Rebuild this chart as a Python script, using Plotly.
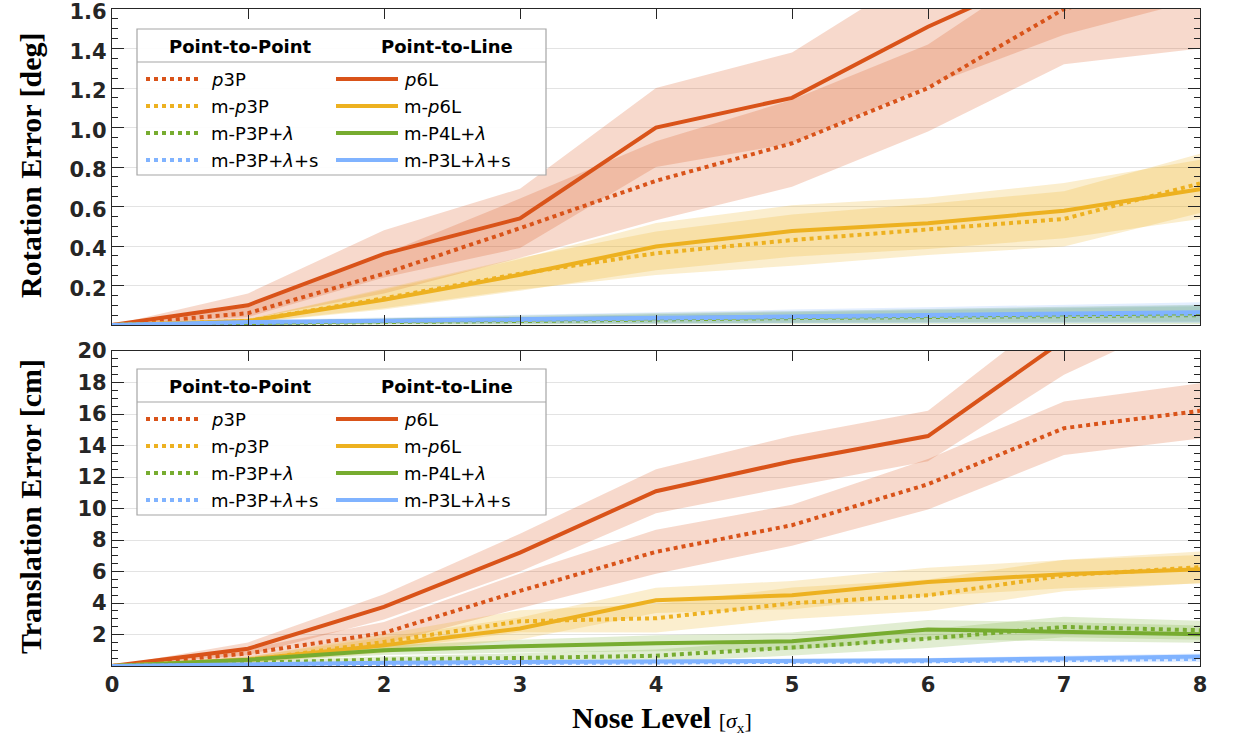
import plotly.graph_objects as go

# ---------------- data ----------------
noise_levels = [0, 1, 2, 3, 4, 5, 6, 7, 8]
x_tick_labels = ["0", "1", "2", "3", "4", "5", "6", "7", "8"]
rot_tick_vals = [0.2, 0.4, 0.6, 0.8, 1.0, 1.2, 1.4, 1.6]
tr_tick_vals = [2, 4, 6, 8, 10, 12, 14, 16, 18, 20]

# Rotation error [deg] (mean, std)
rot_p3P = [0, 0.06, 0.26, 0.49, 0.73, 0.92, 1.20, 1.60, 1.78]
rot_p3P_sd = [0, 0.03, 0.10, 0.15, 0.20, 0.22, 0.22, 0.28, 0.38]
rot_mp3P = [0, 0.02, 0.135, 0.26, 0.363, 0.43, 0.484, 0.537, 0.717]
rot_mp3P_sd = [0, 0.01, 0.05, 0.08, 0.11, 0.13, 0.13, 0.14, 0.15]
rot_mP3Pl = [0, 0.010, 0.015, 0.020, 0.030, 0.035, 0.040, 0.045, 0.050]
rot_mP3Pl_sd = [0, 0.008, 0.012, 0.018, 0.024, 0.030, 0.035, 0.040, 0.045]
rot_mP3Pls = [0, 0.012, 0.020, 0.025, 0.030, 0.040, 0.045, 0.050, 0.055]
rot_mP3Pls_sd = [0, 0.008, 0.012, 0.018, 0.024, 0.030, 0.035, 0.040, 0.045]
rot_p6L = [0, 0.10, 0.36, 0.54, 1.00, 1.15, 1.51, 1.82, 2.05]
rot_p6L_sd = [0, 0.06, 0.12, 0.15, 0.20, 0.23, 0.30, 0.35, 0.40]
rot_mp6L = [0, 0.02, 0.128, 0.254, 0.397, 0.476, 0.515, 0.579, 0.687]
rot_mp6L_sd = [0, 0.01, 0.05, 0.08, 0.12, 0.13, 0.13, 0.14, 0.15]
rot_mP4Ll = [0, 0.012, 0.020, 0.028, 0.035, 0.040, 0.048, 0.055, 0.060]
rot_mP4Ll_sd = [0, 0.008, 0.014, 0.020, 0.026, 0.030, 0.034, 0.038, 0.042]
rot_mP3Lls = [0, 0.015, 0.022, 0.030, 0.038, 0.045, 0.052, 0.058, 0.065]
rot_mP3Lls_sd = [0, 0.010, 0.016, 0.022, 0.028, 0.033, 0.038, 0.044, 0.050]

# Translation error [cm] (mean, std)
tr_p3P = [0, 0.8, 2.1, 4.77, 7.25, 8.94, 11.54, 15.1, 16.2]
tr_p3P_sd = [0, 0.3, 0.7, 1.1, 1.4, 1.3, 1.6, 1.7, 1.75]
tr_mp3P = [0, 0.35, 1.53, 2.84, 3.03, 3.98, 4.49, 5.75, 6.27]
tr_mp3P_sd = [0, 0.2, 0.5, 0.7, 0.9, 1.0, 1.0, 1.0, 1.0]
tr_mP3Pl = [0, 0.2, 0.41, 0.51, 0.65, 1.17, 1.74, 2.48, 2.27]
tr_mP3Pl_sd = [0, 0.1, 0.2, 0.3, 0.4, 0.5, 0.6, 0.65, 0.6]
tr_mP3Pls = [0, 0.08, 0.15, 0.2, 0.22, 0.25, 0.3, 0.38, 0.45]
tr_mP3Pls_sd = [0, 0.05, 0.08, 0.1, 0.12, 0.13, 0.15, 0.17, 0.2]
tr_p6L = [0, 1.1, 3.75, 7.2, 11.1, 13.0, 14.6, 20.7, 25.0]
tr_p6L_sd = [0, 0.4, 0.8, 1.2, 1.4, 1.6, 1.6, 2.2, 2.5]
tr_mp6L = [0, 0.4, 1.32, 2.38, 4.17, 4.5, 5.34, 5.83, 6.14]
tr_mp6L_sd = [0, 0.2, 0.5, 0.7, 0.8, 0.9, 0.9, 0.9, 0.9]
tr_mP4Ll = [0, 0.4, 1.0, 1.26, 1.45, 1.57, 2.32, 2.17, 2.02]
tr_mP4Ll_sd = [0, 0.15, 0.3, 0.4, 0.5, 0.55, 0.6, 0.6, 0.55]
tr_mP3Lls = [0, 0.12, 0.2, 0.25, 0.3, 0.33, 0.36, 0.48, 0.6]
tr_mP3Lls_sd = [0, 0.05, 0.08, 0.1, 0.12, 0.13, 0.15, 0.17, 0.2]

names_p2p = ["<i>p</i>3P", "m-<i>p</i>3P", "m-P3P+<i>λ</i>", "m-P3P+<i>λ</i>+s"]
names_p2l = ["<i>p</i>6L", "m-<i>p</i>6L", "m-P4L+<i>λ</i>", "m-P3L+<i>λ</i>+s"]
header_p2p = "Point-to-Point"
header_p2l = "Point-to-Line"
colors = ["#D95319", "#EDB120", "#77AC30", "#80B3FF"]

rot_p2p = [(rot_p3P, rot_p3P_sd), (rot_mp3P, rot_mp3P_sd), (rot_mP3Pl, rot_mP3Pl_sd), (rot_mP3Pls, rot_mP3Pls_sd)]
rot_p2l = [(rot_p6L, rot_p6L_sd), (rot_mp6L, rot_mp6L_sd), (rot_mP4Ll, rot_mP4Ll_sd), (rot_mP3Lls, rot_mP3Lls_sd)]
tr_p2p = [(tr_p3P, tr_p3P_sd), (tr_mp3P, tr_mp3P_sd), (tr_mP3Pl, tr_mP3Pl_sd), (tr_mP3Pls, tr_mP3Pls_sd)]
tr_p2l = [(tr_p6L, tr_p6L_sd), (tr_mp6L, tr_mp6L_sd), (tr_mP4Ll, tr_mP4Ll_sd), (tr_mP3Lls, tr_mP3Lls_sd)]

# ---------------- layout geometry ----------------
W, H = 1236, 737
ML, MR, MT, MB = 112, 36, 9, 71
PW, PH = W - ML - MR, H - MT - MB


def px(xp):
    return (xp - ML) / PW


def py(yp):
    return (H - MB - yp) / PH


def rgba(hexc, a):
    h = hexc.lstrip("#")
    return "rgba(%d,%d,%d,%.3f)" % (int(h[0:2], 16), int(h[2:4], 16), int(h[4:6], 16), a)


fig = go.Figure()


def add_panel(p2p, p2l, xa, ya):
    # bands
    for group in (p2p, p2l):
        for (m, s), c in zip(group, colors):
            up = [a + b for a, b in zip(m, s)]
            lo = [a - b for a, b in zip(m, s)]
            fig.add_trace(go.Scatter(
                x=noise_levels + noise_levels[::-1], y=up + lo[::-1],
                mode="lines", fill="toself", fillcolor=rgba(c, 0.22), line=dict(width=0),
                hoverinfo="skip", showlegend=False, xaxis=xa, yaxis=ya))
    # lines
    for i, c in enumerate(colors):
        m = p2l[i][0]
        fig.add_trace(go.Scatter(x=noise_levels, y=m, mode="lines",
                                 line=dict(color=c, width=4),
                                 showlegend=False, xaxis=xa, yaxis=ya))
        m = p2p[i][0]
        fig.add_trace(go.Scatter(x=noise_levels, y=m, mode="lines",
                                 line=dict(color=c, width=4, dash="dot"),
                                 showlegend=False, xaxis=xa, yaxis=ya))


add_panel(rot_p2p, rot_p2l, "x", "y")
add_panel(tr_p2p, tr_p2l, "x2", "y2")

shapes = []
annotations = []


def add_legend(top):
    left, right = 137, 546
    shapes.append(dict(type="rect", xref="paper", yref="paper",
                       x0=px(left), x1=px(right), y0=py(top + 146), y1=py(top),
                       line=dict(color="#A6A6A6", width=1.2), fillcolor="rgba(255,255,255,0.92)",
                       layer="above"))
    shapes.append(dict(type="line", xref="paper", yref="paper",
                       x0=px(left), x1=px(right), y0=py(top + 33), y1=py(top + 33),
                       line=dict(color="#A6A6A6", width=1.2), layer="above"))
    hf = dict(family="DejaVu Sans", size=18, color="black", weight="bold")
    annotations.append(dict(xref="paper", yref="paper", x=px(240), y=py(top + 17),
                            text=header_p2p, showarrow=False, font=hf,
                            xanchor="center", yanchor="middle"))
    annotations.append(dict(xref="paper", yref="paper", x=px(447), y=py(top + 17),
                            text=header_p2l, showarrow=False, font=hf,
                            xanchor="center", yanchor="middle"))
    ef = dict(family="DejaVu Sans", size=18, color="black")
    for i, c in enumerate(colors):
        yy = top + 50 + 27 * i
        shapes.append(dict(type="line", xref="paper", yref="paper",
                           x0=px(146), x1=px(200), y0=py(yy), y1=py(yy),
                           line=dict(color=c, width=4, dash="dot"), layer="above"))
        annotations.append(dict(xref="paper", yref="paper", x=px(209), y=py(yy),
                                text=names_p2p[i], showarrow=False, font=ef,
                                xanchor="left", yanchor="middle"))
        shapes.append(dict(type="line", xref="paper", yref="paper",
                           x0=px(336), x1=px(398), y0=py(yy), y1=py(yy),
                           line=dict(color=c, width=4), layer="above"))
        annotations.append(dict(xref="paper", yref="paper", x=px(402), y=py(yy),
                                text=names_p2l[i], showarrow=False, font=ef,
                                xanchor="left", yanchor="middle"))


add_legend(29)
add_legend(369)

title_font = dict(family="Liberation Serif", size=30, color="black")
annotations.append(dict(xref="paper", yref="paper", x=px(30), y=py(165),
                        text="<b>Rotation Error [deg]</b>", textangle=-90,
                        showarrow=False, font=title_font, xanchor="center", yanchor="middle"))
annotations.append(dict(xref="paper", yref="paper", x=px(30), y=py(507),
                        text="<b>Translation Error [cm]</b>", textangle=-90,
                        showarrow=False, font=title_font, xanchor="center", yanchor="middle"))
annotations.append(dict(xref="paper", yref="paper", x=px(662), y=py(718),
                        text="<b>Nose Level</b> <span style='font-size:22px'>[<i>σ</i><sub>x</sub>]</span>",
                        showarrow=False, font=title_font, xanchor="center", yanchor="middle"))

tick_font = dict(family="DejaVu Sans", size=21, color="#262626", weight="bold")
axis_common = dict(showline=True, linecolor="#262626", linewidth=1.3, mirror="allticks",
                   ticks="inside", tickcolor="#262626", zeroline=False, automargin=False,
                   ticklabeloverflow="allow")

top_dom = [py(325), py(9)]
bot_dom = [py(666), py(351)]

fig.update_layout(
    width=W, height=H, autosize=False,
    margin=dict(l=ML, r=MR, t=MT, b=MB, autoexpand=False),
    paper_bgcolor="white", plot_bgcolor="white",
    showlegend=False,
    xaxis=dict(domain=[0, 1], anchor="y", range=[0, 8], tickvals=noise_levels,
               showticklabels=False, showgrid=False, ticklen=10, **axis_common),
    yaxis=dict(domain=top_dom, anchor="x", range=[0, 1.6], tickvals=rot_tick_vals,
               ticktext=["%.1f" % v for v in rot_tick_vals], tickfont=tick_font,
               ticklabelshift=3,
               showgrid=True, gridcolor="#E3E3E3", gridwidth=1, ticklen=12,
               minor=dict(dtick=0.05, tick0=0, ticks="inside", ticklen=6, tickcolor="#262626", showgrid=False),
               **axis_common),
    xaxis2=dict(domain=[0, 1], anchor="y2", range=[0, 8], tickvals=noise_levels,
                ticktext=x_tick_labels, tickfont=tick_font, showgrid=False, ticklen=10,
                **axis_common),
    yaxis2=dict(domain=bot_dom, anchor="x2", range=[0, 20], tickvals=tr_tick_vals,
                ticktext=[str(v) for v in tr_tick_vals], tickfont=tick_font,
                showgrid=True, gridcolor="#E3E3E3", gridwidth=1, ticklen=12,
                minor=dict(dtick=0.5, tick0=0, ticks="inside", ticklen=6, tickcolor="#262626", showgrid=False),
                **axis_common),
    shapes=shapes,
    annotations=annotations,
)

fig.write_html("out.html")
